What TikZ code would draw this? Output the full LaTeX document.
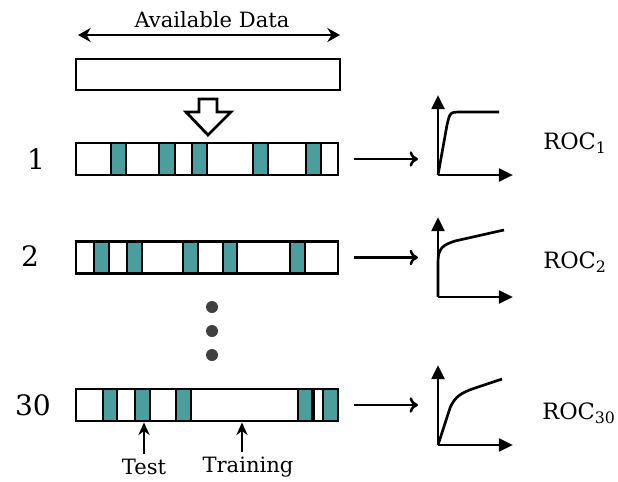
\documentclass[tikz,border=0pt]{standalone}
\usepackage{fontspec}
\setmainfont{DejaVu Serif}
\usetikzlibrary{arrows.meta,positioning}
\definecolor{tealcell}{RGB}{74,158,158}
\definecolor{dotgray}{RGB}{64,64,64}

\begin{document}
\begin{tikzpicture}[x=0.025cm, y=-0.025cm,
  bar/.style={draw, line width=2pt, minimum width=6.55cm, minimum height=0.8cm, inner sep=0pt},
  cell/.style={draw, fill=tealcell, line width=1.8pt},
  conn/.style={-{To[length=6pt,width=11pt]}, line width=1.8pt},
  pointer/.style={-{Stealth[length=9pt,width=8pt]}, line width=1.4pt},
  axis/.style={-{Triangle[length=10pt,width=9pt]}, line width=2.1pt},
  roc/.style={line width=1.9pt},
  lbl/.style={font=\fontsize{15}{17}\selectfont},
  num/.style={font=\fontsize{20}{22}\selectfont}]
\path[use as bounding box] (0,0) rectangle (618,481);
% whole data set
\node[lbl] (avail) at (212,20) {Available Data};
\coordinate (al) at (78,35);
\coordinate (ar) at (340,35);
\draw[{Stealth[length=9pt,width=10pt]}-{Stealth[length=9pt,width=10pt]}, line width=1.6pt] (al) -- (ar);
\node[bar, minimum width=6.6cm, minimum height=0.775cm] (full) at (208,74.5) {};
\draw[line width=2pt, fill=white] (199,99) -- (217,99) -- (217,112) -- (231,112) -- (208,135) -- (186,112) -- (199,112) -- cycle;

% splits
\node[bar] (row1) at (207,159) {};
\node[bar] (row2) at (207,257.5) {};
\node[bar] (row30) at (207,405) {};
\foreach \a/\b in {111/126,159/175,192/207,253/268,306/321}
  \draw[cell] (\a,143) rectangle (\b,175);
\foreach \a/\b in {94/109,127/142,183/198,223/237,290/305}
  \draw[cell] (\a,241.5) rectangle (\b,273.5);
\foreach \a/\b in {103/117,135/150,176/191,298/312,323/338}
  \draw[cell] (\a,389) rectangle (\b,421);
\draw[line width=1.8pt] (314,389) -- (314,421);

\node[num] (n1) at (36,159) {1};
\node[num] (n2) at (30,256) {2};
\node[num] (n30) at (33,405) {30};

\foreach \y in {307,331,355}
  \fill[dotgray] (212,\y) circle (0.15cm);

\node[lbl] (test) at (144,467) {Test};
\node[lbl] (train) at (248,467) {Training};
\draw[pointer] (test.north) -- (test.north |- row30.south);
\draw[pointer] ([xshift=-0.15cm]train.north) -- ([xshift=-0.15cm]train.north |- row30.south);

% ROC curves
\coordinate (o1) at (438,175);
\coordinate (o2) at (438,297);
\coordinate (o30) at (438,445);
\foreach \o in {o1,o2,o30} {
  \draw[axis] (\o) -- ++(0,-80);
  \draw[axis] (\o) -- ++(75,0);
}
\draw[roc] (o1) -- (447,125) .. controls (450,112) .. (462,112) -- (499,112);
\draw[roc] (o2) -- (438,262) .. controls (438,248) and (443,245) .. (455,241) -- (504,230);
\draw[roc] (o30) -- (450,408) .. controls (455,396) and (462,393) .. (472,389) -- (502,379);

\draw[conn] ([xshift=0.375cm]row1.east) -- ([xshift=-0.5cm]o1 |- row1.east);
\draw[conn] ([xshift=0.375cm]row2.east) -- ([xshift=-0.5cm]o2 |- row2.east);
\draw[conn] ([xshift=0.375cm]row30.east) -- ([xshift=-0.5cm]o30 |- row30.east);

\node[lbl, font=\fontsize{16}{18}\selectfont] (roc1) at (575,143) {ROC\textsubscript{1}};
\node[lbl, font=\fontsize{16}{18}\selectfont] (roc2) at (575,262) {ROC\textsubscript{2}};
\node[lbl, font=\fontsize{16}{18}\selectfont] (roc30) at (579,413) {ROC\textsubscript{30}};
\end{tikzpicture}
\end{document}
